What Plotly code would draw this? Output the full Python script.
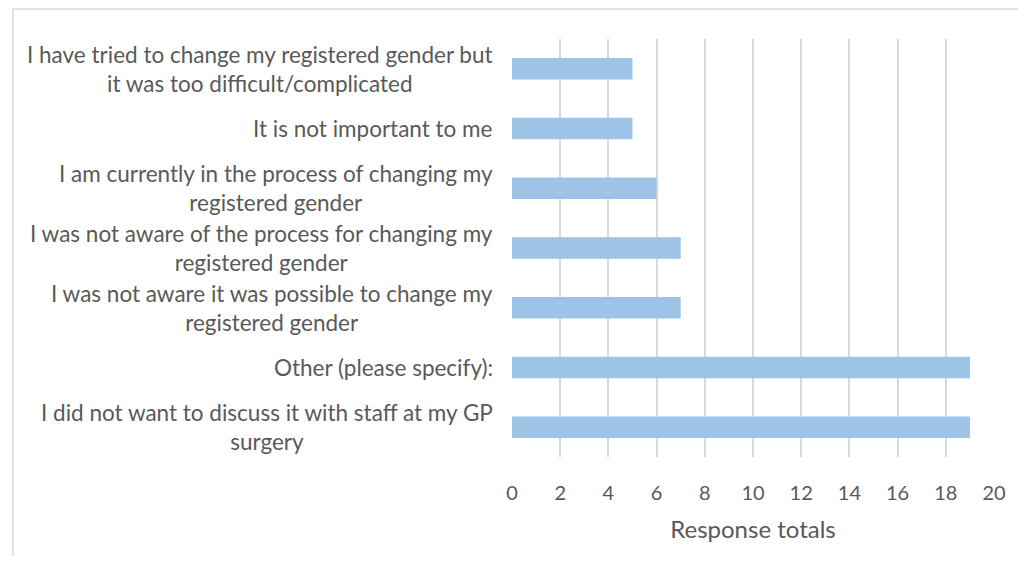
import plotly.graph_objects as go

categories = [
    "I did not want to discuss it with staff at my GP<br>surgery",
    "Other (please specify):",
    "I was not aware it was possible to change my<br>registered gender",
    "I was not aware of the process for changing my<br>registered gender",
    "I am currently in the process of changing my<br>registered gender",
    "It is not important to me",
    "I have tried to change my registered gender but<br>it was too difficult/complicated",
]
values = [19, 19, 7, 7, 6, 5, 5]
x_ticks = list(range(0, 21, 2))
x_title = "Response totals"

FONT = "Lato"
TXT = "#595959"
GRID = "#D9D9D9"

# page body has an 8px margin, so the figure is shifted by (8, 8)
W, H = 1010, 548
L, R, T, B = 504, 20, 31, 99

fig = go.Figure(
    go.Bar(
        y=list(range(len(categories))),
        x=values,
        orientation="h",
        width=0.36,
        marker=dict(color="#9DC3E6", line=dict(width=0)),
        hoverinfo="x",
    )
)

for i, lab in enumerate(categories):
    fig.add_annotation(
        x=0, xref="paper", y=i, yref="y",
        text=lab, showarrow=False, xanchor="right", yanchor="middle",
        align="center", xshift=-17,
        font=dict(family=FONT, size=22.5, color=TXT),
    )

pw = W - L - R
ph = H - T - B
fig.add_shape(
    type="rect", xref="paper", yref="paper",
    x0=(0.75 - L) / pw, x1=(W + 20 - L) / pw,
    y0=-(H + 20 - (H - B)) / ph, y1=1 + (T - 1) / ph,
    line=dict(color=GRID, width=1.5), fillcolor="rgba(0,0,0,0)", layer="below",
)

fig.update_layout(
    width=W, height=H,
    margin=dict(l=L, r=R, t=T, b=B),
    paper_bgcolor="white", plot_bgcolor="white",
    showlegend=False,
    font=dict(family=FONT, color=TXT, size=20),
    xaxis=dict(
        range=[0, 20], tickvals=x_ticks, ticktext=[str(v) for v in x_ticks],
        showgrid=True, gridcolor=GRID, gridwidth=1.5, zeroline=False,
        showline=False, ticks="", ticklabelstandoff=22,
        tickfont=dict(family=FONT, size=20, color=TXT),
        title=dict(text=x_title, font=dict(family=FONT, size=24, color=TXT), standoff=18),
    ),
    yaxis=dict(
        range=[-0.5, len(categories) - 0.5], showticklabels=False,
        showgrid=False, zeroline=False, showline=False, ticks="",
    ),
)

fig.write_html("out.html")
